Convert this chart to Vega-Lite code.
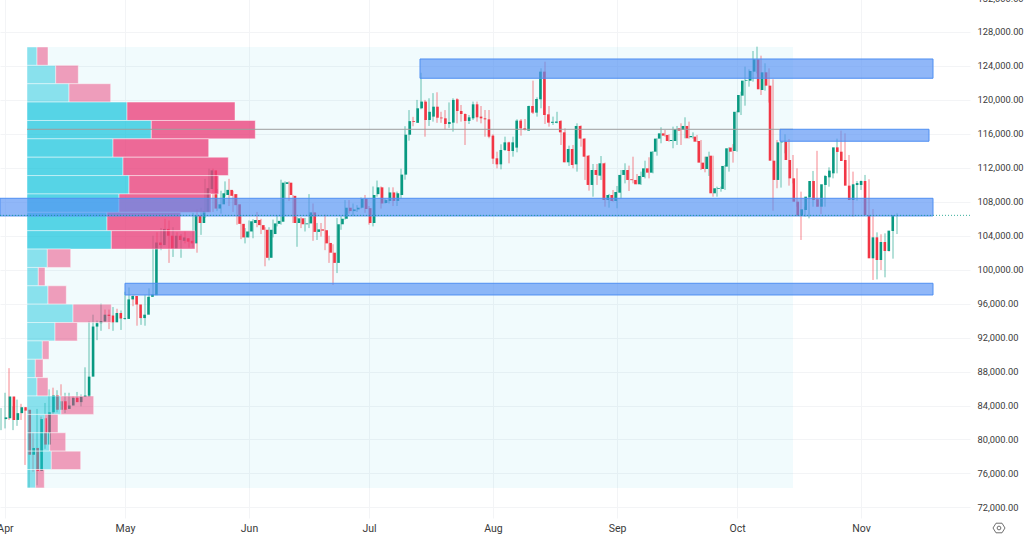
{"$schema":"https://vega.github.io/schema/vega-lite/v6.json","autosize":"none","width":970,"height":522,"padding":{"left":0,"top":-4,"right":54,"bottom":22},"background":"#ffffff","config":{"view":{"stroke":null},"font":"Roboto","axis":{"labelOverlap":false,"labelFont":"Roboto"}},"datasets":{"candles":[
{"date":"2025-03-31","open":82400,"high":83700,"low":81100,"close":82600,"dir":"up"},{"date":"2025-04-01","open":82500,"high":85500,"low":81300,"close":85050,"dir":"up"},{"date":"2025-04-02","open":85050,"high":88400,"low":82300,"close":82300,"dir":"down"},{"date":"2025-04-03","open":82300,"high":83900,"low":81100,"close":83100,"dir":"up"},{"date":"2025-04-04","open":83100,"high":84700,"low":81600,"close":83800,"dir":"up"},{"date":"2025-04-05","open":83800,"high":84200,"low":82300,"close":83400,"dir":"down"},{"date":"2025-04-06","open":83500,"high":83800,"low":77000,"close":78200,"dir":"down"},{"date":"2025-04-07","open":78200,"high":81100,"low":74300,"close":79000,"dir":"up"},{"date":"2025-04-08","open":79000,"high":80800,"low":76200,"close":76300,"dir":"down"},{"date":"2025-04-09","open":76300,"high":83600,"low":74600,"close":82400,"dir":"up"},{"date":"2025-04-10","open":82500,"high":82700,"low":78400,"close":79400,"dir":"down"},{"date":"2025-04-11","open":79400,"high":84300,"low":78900,"close":83200,"dir":"up"},{"date":"2025-04-12","open":83200,"high":85900,"low":82800,"close":85200,"dir":"up"},{"date":"2025-04-13","open":85200,"high":86100,"low":83000,"close":83500,"dir":"down"},{"date":"2025-04-14","open":83500,"high":85800,"low":83200,"close":84500,"dir":"up"},{"date":"2025-04-15","open":84500,"high":86500,"low":83500,"close":83500,"dir":"down"},{"date":"2025-04-16","open":83600,"high":85500,"low":83100,"close":84000,"dir":"up"},{"date":"2025-04-17","open":84000,"high":85500,"low":83700,"close":84900,"dir":"up"},{"date":"2025-04-18","open":84900,"high":85100,"low":84100,"close":84400,"dir":"down"},{"date":"2025-04-19","open":84400,"high":85600,"low":84400,"close":85000,"dir":"up"},{"date":"2025-04-20","open":85000,"high":85300,"low":83900,"close":85200,"dir":"up"},{"date":"2025-04-21","open":85050,"high":88500,"low":85000,"close":87400,"dir":"up"},{"date":"2025-04-22","open":87400,"high":93900,"low":87100,"close":93300,"dir":"up"},{"date":"2025-04-23","open":93300,"high":94700,"low":91900,"close":93700,"dir":"up"},{"date":"2025-04-24","open":93700,"high":94000,"low":91700,"close":93950,"dir":"up"},{"date":"2025-04-25","open":93900,"high":96000,"low":92800,"close":94700,"dir":"up"},{"date":"2025-04-26","open":94700,"high":95300,"low":93900,"close":94550,"dir":"down"},{"date":"2025-04-27","open":94600,"high":95300,"low":93000,"close":93800,"dir":"down"},{"date":"2025-04-28","open":93800,"high":95600,"low":92800,"close":94900,"dir":"up"},{"date":"2025-04-29","open":94900,"high":95400,"low":93900,"close":94250,"dir":"down"},{"date":"2025-04-30","open":94200,"high":95200,"low":92900,"close":94300,"dir":"up"},{"date":"2025-05-01","open":94200,"high":97400,"low":94100,"close":96500,"dir":"up"},{"date":"2025-05-02","open":96500,"high":97900,"low":96000,"close":96900,"dir":"up"},{"date":"2025-05-03","open":96900,"high":97000,"low":95700,"close":95900,"dir":"down"},{"date":"2025-05-04","open":95900,"high":96300,"low":93400,"close":94300,"dir":"down"},{"date":"2025-05-05","open":94300,"high":95200,"low":93500,"close":94700,"dir":"up"},{"date":"2025-05-06","open":94700,"high":97000,"low":93400,"close":96800,"dir":"up"},{"date":"2025-05-07","open":96800,"high":97800,"low":95800,"close":97100,"dir":"up"},{"date":"2025-05-08","open":97000,"high":104000,"low":96900,"close":103200,"dir":"up"},{"date":"2025-05-09","open":103200,"high":104400,"low":102300,"close":102900,"dir":"down"},{"date":"2025-05-10","open":102900,"high":104900,"low":102300,"close":104800,"dir":"up"},{"date":"2025-05-11","open":104800,"high":106000,"low":103100,"close":104000,"dir":"down"},{"date":"2025-05-12","open":104000,"high":105800,"low":100800,"close":102500,"dir":"down"},{"date":"2025-05-13","open":102500,"high":105000,"low":101500,"close":104000,"dir":"up"},{"date":"2025-05-14","open":104000,"high":104400,"low":102600,"close":103500,"dir":"down"},{"date":"2025-05-15","open":103400,"high":104200,"low":101400,"close":103800,"dir":"up"},{"date":"2025-05-16","open":103700,"high":104500,"low":103100,"close":103300,"dir":"down"},{"date":"2025-05-17","open":103400,"high":103700,"low":102600,"close":103100,"dir":"down"},{"date":"2025-05-18","open":103100,"high":106700,"low":102600,"close":106400,"dir":"up"},{"date":"2025-05-19","open":106400,"high":107100,"low":102000,"close":105500,"dir":"down"},{"date":"2025-05-20","open":105500,"high":107300,"low":104100,"close":106900,"dir":"up"},{"date":"2025-05-21","open":106800,"high":110700,"low":106100,"close":109600,"dir":"up"},{"date":"2025-05-22","open":109500,"high":111900,"low":109300,"close":111700,"dir":"up"},{"date":"2025-05-23","open":111700,"high":111900,"low":106800,"close":107200,"dir":"down"},{"date":"2025-05-24","open":107200,"high":109500,"low":106900,"close":107700,"dir":"up"},{"date":"2025-05-25","open":107700,"high":109300,"low":106600,"close":109000,"dir":"up"},{"date":"2025-05-26","open":108800,"high":110400,"low":108600,"close":109400,"dir":"up"},{"date":"2025-05-27","open":109400,"high":110700,"low":107500,"close":108700,"dir":"down"},{"date":"2025-05-28","open":108900,"high":109300,"low":106800,"close":107600,"dir":"down"},{"date":"2025-05-29","open":107700,"high":108900,"low":105300,"close":105400,"dir":"down"},{"date":"2025-05-30","open":105400,"high":106300,"low":103600,"close":103800,"dir":"down"},{"date":"2025-05-31","open":103800,"high":104900,"low":103100,"close":104500,"dir":"up"},{"date":"2025-06-01","open":104500,"high":105800,"low":103800,"close":105700,"dir":"up"},{"date":"2025-06-02","open":105500,"high":105950,"low":103700,"close":105850,"dir":"up"},{"date":"2025-06-03","open":105850,"high":106800,"low":105000,"close":105250,"dir":"down"},{"date":"2025-06-04","open":105250,"high":106000,"low":104200,"close":104700,"dir":"down"},{"date":"2025-06-05","open":104700,"high":105000,"low":100400,"close":101400,"dir":"down"},{"date":"2025-06-06","open":101400,"high":105000,"low":101100,"close":104700,"dir":"up"},{"date":"2025-06-07","open":104200,"high":105900,"low":103800,"close":105450,"dir":"up"},{"date":"2025-06-08","open":105400,"high":106400,"low":105100,"close":105750,"dir":"up"},{"date":"2025-06-09","open":105650,"high":110600,"low":105300,"close":110250,"dir":"up"},{"date":"2025-06-10","open":110100,"high":110400,"low":108400,"close":110300,"dir":"up"},{"date":"2025-06-11","open":110250,"high":110400,"low":108100,"close":108800,"dir":"down"},{"date":"2025-06-12","open":108700,"high":108800,"low":105500,"close":105500,"dir":"down"},{"date":"2025-06-13","open":105500,"high":106200,"low":102700,"close":106050,"dir":"up"},{"date":"2025-06-14","open":106050,"high":106200,"low":104900,"close":105350,"dir":"down"},{"date":"2025-06-15","open":105350,"high":106100,"low":104500,"close":105450,"dir":"up"},{"date":"2025-06-16","open":105450,"high":108900,"low":104900,"close":106750,"dir":"up"},{"date":"2025-06-17","open":106750,"high":107800,"low":103400,"close":104450,"dir":"down"},{"date":"2025-06-18","open":104450,"high":105500,"low":103500,"close":104750,"dir":"up"},{"date":"2025-06-19","open":104750,"high":105500,"low":103900,"close":104600,"dir":"down"},{"date":"2025-06-20","open":104650,"high":106500,"low":102300,"close":103100,"dir":"down"},{"date":"2025-06-21","open":103150,"high":104000,"low":100800,"close":102000,"dir":"down"},{"date":"2025-06-22","open":102000,"high":103000,"low":98200,"close":100800,"dir":"down"},{"date":"2025-06-23","open":100800,"high":106100,"low":99600,"close":105350,"dir":"up"},{"date":"2025-06-24","open":105350,"high":106300,"low":104700,"close":106000,"dir":"up"},{"date":"2025-06-25","open":106000,"high":108200,"low":105900,"close":107300,"dir":"up"},{"date":"2025-06-26","open":107300,"high":108200,"low":106600,"close":106900,"dir":"down"},{"date":"2025-06-27","open":106900,"high":107800,"low":106400,"close":107100,"dir":"up"},{"date":"2025-06-28","open":107100,"high":107600,"low":106800,"close":107300,"dir":"up"},{"date":"2025-06-29","open":107300,"high":108500,"low":107200,"close":108350,"dir":"up"},{"date":"2025-06-30","open":108350,"high":108800,"low":106700,"close":107150,"dir":"down"},{"date":"2025-07-01","open":107250,"high":107500,"low":105300,"close":105500,"dir":"down"},{"date":"2025-07-02","open":105500,"high":109800,"low":105100,"close":108800,"dir":"up"},{"date":"2025-07-03","open":108900,"high":110500,"low":108600,"close":109700,"dir":"up"},{"date":"2025-07-04","open":109700,"high":109800,"low":107200,"close":107800,"dir":"down"},{"date":"2025-07-05","open":107850,"high":108400,"low":107800,"close":108200,"dir":"up"},{"date":"2025-07-06","open":108100,"high":109700,"low":107800,"close":109100,"dir":"up"},{"date":"2025-07-07","open":109100,"high":109700,"low":107500,"close":108100,"dir":"down"},{"date":"2025-07-08","open":108100,"high":109200,"low":107500,"close":109000,"dir":"up"},{"date":"2025-07-09","open":108800,"high":111900,"low":108400,"close":111200,"dir":"up"},{"date":"2025-07-10","open":111200,"high":116900,"low":110600,"close":115900,"dir":"up"},{"date":"2025-07-11","open":115900,"high":118800,"low":115200,"close":117500,"dir":"up"},{"date":"2025-07-12","open":117500,"high":118000,"low":116900,"close":117400,"dir":"down"},{"date":"2025-07-13","open":117300,"high":120000,"low":117300,"close":119010,"dir":"up"},{"date":"2025-07-14","open":119010,"high":123200,"low":118900,"close":119800,"dir":"up"},{"date":"2025-07-15","open":119800,"high":120000,"low":115670,"close":117630,"dir":"down"},{"date":"2025-07-16","open":117630,"high":120190,"low":116930,"close":118600,"dir":"up"},{"date":"2025-07-17","open":118030,"high":120800,"low":117440,"close":119200,"dir":"up"},{"date":"2025-07-18","open":119200,"high":120900,"low":117300,"close":117900,"dir":"down"},{"date":"2025-07-19","open":117920,"high":118600,"low":117300,"close":117830,"dir":"down"},{"date":"2025-07-20","open":117830,"high":118800,"low":116540,"close":117160,"dir":"down"},{"date":"2025-07-21","open":117160,"high":119700,"low":116700,"close":117400,"dir":"up"},{"date":"2025-07-22","open":117320,"high":120200,"low":116260,"close":120000,"dir":"up"},{"date":"2025-07-23","open":120070,"high":120200,"low":117240,"close":118690,"dir":"down"},{"date":"2025-07-24","open":118690,"high":119400,"low":117440,"close":118340,"dir":"down"},{"date":"2025-07-25","open":118340,"high":118420,"low":114690,"close":117520,"dir":"down"},{"date":"2025-07-26","open":117520,"high":118220,"low":117160,"close":117950,"dir":"up"},{"date":"2025-07-27","open":117830,"high":119800,"low":117630,"close":119480,"dir":"up"},{"date":"2025-07-28","open":119480,"high":119800,"low":117440,"close":117950,"dir":"down"},{"date":"2025-07-29","open":118030,"high":119280,"low":117240,"close":117830,"dir":"down"},{"date":"2025-07-30","open":117830,"high":118810,"low":115670,"close":117710,"dir":"down"},{"date":"2025-07-31","open":117710,"high":118810,"low":115480,"close":115670,"dir":"down"},{"date":"2025-08-01","open":115790,"high":115950,"low":112450,"close":113080,"dir":"down"},{"date":"2025-08-02","open":113120,"high":113900,"low":111940,"close":112410,"dir":"down"},{"date":"2025-08-03","open":112410,"high":114770,"low":111820,"close":114100,"dir":"up"},{"date":"2025-08-04","open":114100,"high":115670,"low":113980,"close":115000,"dir":"up"},{"date":"2025-08-05","open":115000,"high":115080,"low":112530,"close":113980,"dir":"down"},{"date":"2025-08-06","open":113980,"high":115670,"low":113310,"close":115000,"dir":"up"},{"date":"2025-08-07","open":114380,"high":117720,"low":113830,"close":117560,"dir":"up"},{"date":"2025-08-08","open":117560,"high":117750,"low":115790,"close":116650,"dir":"down"},{"date":"2025-08-09","open":116650,"high":117750,"low":116400,"close":116460,"dir":"down"},{"date":"2025-08-10","open":116380,"high":119320,"low":116380,"close":119280,"dir":"up"},{"date":"2025-08-11","open":119280,"high":122270,"low":118340,"close":118500,"dir":"down"},{"date":"2025-08-12","open":118500,"high":120300,"low":118030,"close":120110,"dir":"up"},{"date":"2025-08-13","open":120070,"high":123720,"low":119010,"close":123330,"dir":"up"},{"date":"2025-08-14","open":123330,"high":124500,"low":117160,"close":118220,"dir":"down"},{"date":"2025-08-15","open":118300,"high":119280,"low":116850,"close":117320,"dir":"down"},{"date":"2025-08-16","open":117300,"high":118030,"low":117050,"close":117420,"dir":"up"},{"date":"2025-08-17","open":117300,"high":118600,"low":117240,"close":117450,"dir":"up"},{"date":"2025-08-18","open":117520,"high":117630,"low":114690,"close":116180,"dir":"down"},{"date":"2025-08-19","open":116180,"high":116650,"low":112650,"close":112650,"dir":"down"},{"date":"2025-08-20","open":112650,"high":114610,"low":112220,"close":114220,"dir":"up"},{"date":"2025-08-21","open":114220,"high":114690,"low":111940,"close":112330,"dir":"down"},{"date":"2025-08-22","open":112410,"high":117240,"low":111550,"close":116930,"dir":"up"},{"date":"2025-08-23","open":116930,"high":117000,"low":114490,"close":115440,"dir":"down"},{"date":"2025-08-24","open":115440,"high":115480,"low":110570,"close":113310,"dir":"down"},{"date":"2025-08-25","open":113430,"high":113510,"low":109310,"close":109980,"dir":"down"},{"date":"2025-08-26","open":109980,"high":112450,"low":108600,"close":111740,"dir":"up"},{"date":"2025-08-27","open":111740,"high":112450,"low":109980,"close":111160,"dir":"down"},{"date":"2025-08-28","open":111080,"high":113390,"low":110570,"close":112530,"dir":"up"},{"date":"2025-08-29","open":112530,"high":112610,"low":107420,"close":108210,"dir":"down"},{"date":"2025-08-30","open":108210,"high":108920,"low":107310,"close":108800,"dir":"up"},{"date":"2025-08-31","open":108800,"high":109390,"low":108010,"close":108090,"dir":"down"},{"date":"2025-09-01","open":108090,"high":109860,"low":107230,"close":109150,"dir":"up"},{"date":"2025-09-02","open":109070,"high":111740,"low":108410,"close":111160,"dir":"up"},{"date":"2025-09-03","open":111160,"high":112530,"low":110170,"close":111740,"dir":"up"},{"date":"2025-09-04","open":111740,"high":112260,"low":109270,"close":110570,"dir":"down"},{"date":"2025-09-05","open":110650,"high":113310,"low":110170,"close":110550,"dir":"down"},{"date":"2025-09-06","open":110570,"high":111270,"low":110060,"close":110060,"dir":"down"},{"date":"2025-09-07","open":110060,"high":111550,"low":109980,"close":111040,"dir":"up"},{"date":"2025-09-08","open":110920,"high":112840,"low":110760,"close":111940,"dir":"up"},{"date":"2025-09-09","open":111940,"high":113240,"low":110760,"close":111430,"dir":"down"},{"date":"2025-09-10","open":111430,"high":113980,"low":111350,"close":113900,"dir":"up"},{"date":"2025-09-11","open":113900,"high":115480,"low":113430,"close":115440,"dir":"up"},{"date":"2025-09-12","open":115440,"high":116770,"low":114890,"close":116060,"dir":"up"},{"date":"2025-09-13","open":116060,"high":116460,"low":115670,"close":115790,"dir":"down"},{"date":"2025-09-14","open":115870,"high":115950,"low":115080,"close":115160,"dir":"down"},{"date":"2025-09-15","open":115160,"high":116850,"low":114300,"close":115280,"dir":"up"},{"date":"2025-09-16","open":115160,"high":116930,"low":114690,"close":116570,"dir":"up"},{"date":"2025-09-17","open":116650,"high":117240,"low":114690,"close":116380,"dir":"down"},{"date":"2025-09-18","open":116460,"high":117950,"low":115480,"close":116930,"dir":"up"},{"date":"2025-09-19","open":116930,"high":117440,"low":115440,"close":115480,"dir":"down"},{"date":"2025-09-20","open":115600,"high":116180,"low":115440,"close":115750,"dir":"up"},{"date":"2025-09-21","open":115670,"high":115870,"low":115040,"close":115080,"dir":"down"},{"date":"2025-09-22","open":115160,"high":115280,"low":111740,"close":112610,"dir":"down"},{"date":"2025-09-23","open":112610,"high":113310,"low":111470,"close":111860,"dir":"down"},{"date":"2025-09-24","open":111860,"high":113900,"low":111040,"close":113310,"dir":"up"},{"date":"2025-09-25","open":113430,"high":113430,"low":108600,"close":109000,"dir":"down"},{"date":"2025-09-26","open":109000,"high":109780,"low":108600,"close":109590,"dir":"up"},{"date":"2025-09-27","open":109510,"high":109780,"low":109190,"close":109600,"dir":"up"},{"date":"2025-09-28","open":109510,"high":112330,"low":109390,"close":112220,"dir":"up"},{"date":"2025-09-29","open":112140,"high":114410,"low":111550,"close":114300,"dir":"up"},{"date":"2025-09-30","open":114380,"high":114800,"low":112610,"close":113900,"dir":"down"},{"date":"2025-10-01","open":113980,"high":118730,"low":113900,"close":118600,"dir":"up"},{"date":"2025-10-02","open":118540,"high":120970,"low":118220,"close":120580,"dir":"up"},{"date":"2025-10-03","open":120500,"high":123920,"low":119320,"close":122270,"dir":"up"},{"date":"2025-10-04","open":122270,"high":123600,"low":121560,"close":122350,"dir":"up"},{"date":"2025-10-05","open":122270,"high":125760,"low":122150,"close":123410,"dir":"up"},{"date":"2025-10-06","open":123330,"high":126270,"low":123130,"close":124780,"dir":"up"},{"date":"2025-10-07","open":124780,"high":125210,"low":120580,"close":121250,"dir":"down"},{"date":"2025-10-08","open":121170,"high":124310,"low":121090,"close":123250,"dir":"up"},{"date":"2025-10-09","open":123250,"high":123720,"low":119680,"close":121680,"dir":"down"},{"date":"2025-10-10","open":121680,"high":122430,"low":106950,"close":112840,"dir":"down"},{"date":"2025-10-11","open":112840,"high":115280,"low":109590,"close":110570,"dir":"down"},{"date":"2025-10-12","open":110570,"high":115080,"low":109670,"close":115000,"dir":"up"},{"date":"2025-10-13","open":115000,"high":115950,"low":113710,"close":115080,"dir":"up"},{"date":"2025-10-14","open":115080,"high":115390,"low":109900,"close":112920,"dir":"down"},{"date":"2025-10-15","open":112920,"high":113510,"low":110170,"close":110760,"dir":"down"},{"date":"2025-10-16","open":110760,"high":111940,"low":107420,"close":108010,"dir":"down"},{"date":"2025-10-17","open":108010,"high":109190,"low":103500,"close":106330,"dir":"down"},{"date":"2025-10-18","open":106330,"high":107420,"low":106250,"close":107110,"dir":"up"},{"date":"2025-10-19","open":107030,"high":108800,"low":106050,"close":108600,"dir":"up"},{"date":"2025-10-20","open":108520,"high":111630,"low":107420,"close":110450,"dir":"up"},{"date":"2025-10-21","open":110450,"high":114000,"low":107420,"close":108210,"dir":"down"},{"date":"2025-10-22","open":108290,"high":109110,"low":106560,"close":107420,"dir":"down"},{"date":"2025-10-23","open":107420,"high":111160,"low":107420,"close":110060,"dir":"up"},{"date":"2025-10-24","open":109980,"high":112060,"low":109780,"close":111040,"dir":"up"},{"date":"2025-10-25","open":110880,"high":111740,"low":110760,"close":111670,"dir":"up"},{"date":"2025-10-26","open":111350,"high":115440,"low":111350,"close":114410,"dir":"up"},{"date":"2025-10-27","open":114410,"high":116380,"low":113710,"close":113870,"dir":"down"},{"date":"2025-10-28","open":113900,"high":116060,"low":112140,"close":112800,"dir":"down"},{"date":"2025-10-29","open":112920,"high":113510,"low":108800,"close":109900,"dir":"down"},{"date":"2025-10-30","open":109900,"high":111550,"low":106250,"close":108210,"dir":"down"},{"date":"2025-10-31","open":108210,"high":110450,"low":108130,"close":110060,"dir":"up"},{"date":"2025-11-01","open":109980,"high":110500,"low":109390,"close":110200,"dir":"up"},{"date":"2025-11-02","open":109980,"high":111160,"low":109390,"close":110450,"dir":"up"},{"date":"2025-11-03","open":110450,"high":110650,"low":105150,"close":106440,"dir":"down"},{"date":"2025-11-04","open":106440,"high":107150,"low":98790,"close":101340,"dir":"down"},{"date":"2025-11-05","open":101340,"high":104400,"low":98860,"close":103810,"dir":"up"},{"date":"2025-11-06","open":103810,"high":104170,"low":99960,"close":101140,"dir":"down"},{"date":"2025-11-07","open":101140,"high":104280,"low":99100,"close":103260,"dir":"up"},{"date":"2025-11-08","open":103260,"high":103300,"low":102120,"close":102200,"dir":"down"},{"date":"2025-11-09","open":102200,"high":105380,"low":101300,"close":104600,"dir":"up"},{"date":"2025-11-10","open":104560,"high":106640,"low":104200,"close":106440,"dir":"up"}],
"profile":[
{"high":126233,"low":124069,"from":0,"to":10,"part":"up outer"},{"high":126233,"low":124069,"from":10,"to":21,"part":"down outer"},
{"high":124069,"low":121905,"from":0,"to":28.7,"part":"up outer"},{"high":124069,"low":121905,"from":28.7,"to":51.3,"part":"down outer"},
{"high":121905,"low":119741,"from":0,"to":42,"part":"up outer"},{"high":121905,"low":119741,"from":42,"to":83.7,"part":"down outer"},
{"high":119741,"low":117577,"from":0,"to":100,"part":"up value"},{"high":119741,"low":117577,"from":100,"to":208,"part":"down value"},
{"high":117577,"low":115413,"from":0,"to":124.3,"part":"up value"},{"high":117577,"low":115413,"from":124.3,"to":228.3,"part":"down value"},
{"high":115413,"low":113249,"from":0,"to":86,"part":"up value"},{"high":115413,"low":113249,"from":86,"to":181.7,"part":"down value"},
{"high":113249,"low":111085,"from":0,"to":96,"part":"up value"},{"high":113249,"low":111085,"from":96,"to":201.3,"part":"down value"},
{"high":111085,"low":108921,"from":0,"to":102,"part":"up value"},{"high":111085,"low":108921,"from":102,"to":191.7,"part":"down value"},
{"high":108921,"low":106757,"from":0,"to":92,"part":"up value"},{"high":108921,"low":106757,"from":92,"to":184,"part":"down value"},
{"high":106757,"low":104593,"from":0,"to":80,"part":"up value"},{"high":106757,"low":104593,"from":80,"to":153.7,"part":"down value"},
{"high":104593,"low":102429,"from":0,"to":84.3,"part":"up value"},{"high":104593,"low":102429,"from":84.3,"to":168,"part":"down value"},
{"high":102429,"low":100265,"from":0,"to":20.3,"part":"up outer"},{"high":102429,"low":100265,"from":20.3,"to":43.7,"part":"down outer"},
{"high":100265,"low":98101,"from":0,"to":11.3,"part":"up outer"},{"high":100265,"low":98101,"from":11.3,"to":18,"part":"down outer"},
{"high":98101,"low":95937,"from":0,"to":21,"part":"up outer"},{"high":98101,"low":95937,"from":21,"to":39.3,"part":"down outer"},
{"high":95937,"low":93773,"from":0,"to":46,"part":"up outer"},{"high":95937,"low":93773,"from":46,"to":84.3,"part":"down outer"},
{"high":93773,"low":91609,"from":0,"to":28,"part":"up outer"},{"high":93773,"low":91609,"from":28,"to":50.3,"part":"down outer"},
{"high":91609,"low":89445,"from":0,"to":15.3,"part":"up outer"},{"high":91609,"low":89445,"from":15.3,"to":22,"part":"down outer"},
{"high":89445,"low":87281,"from":0,"to":8.3,"part":"up outer"},{"high":89445,"low":87281,"from":8.3,"to":16,"part":"down outer"},
{"high":87281,"low":85117,"from":0,"to":10,"part":"up outer"},{"high":87281,"low":85117,"from":10,"to":21,"part":"down outer"},
{"high":85117,"low":82953,"from":0,"to":34,"part":"up outer"},{"high":85117,"low":82953,"from":34,"to":66.7,"part":"down outer"},
{"high":82953,"low":80789,"from":0,"to":18,"part":"up outer"},{"high":82953,"low":80789,"from":18,"to":31,"part":"down outer"},
{"high":80789,"low":78625,"from":0,"to":22.7,"part":"up outer"},{"high":80789,"low":78625,"from":22.7,"to":38.7,"part":"down outer"},
{"high":78625,"low":76461,"from":0,"to":24.3,"part":"up outer"},{"high":78625,"low":76461,"from":24.3,"to":53.7,"part":"down outer"},
{"high":76461,"low":74297,"from":0,"to":8.7,"part":"up outer"},{"high":76461,"low":74297,"from":8.7,"to":17.3,"part":"down outer"}],
"zones":[
{"start":"2025-07-13T18:00:00Z","end":"2025-11-19T00:00:00Z","top":124820,"bottom":122550},
{"start":"2025-10-11T18:00:00Z","end":"2025-11-18T00:00:00Z","top":116540,"bottom":115130},
{"start":"2025-03-30T18:00:00Z","end":"2025-11-19T00:00:00Z","top":108410,"bottom":106330},
{"start":"2025-05-01T00:00:00Z","end":"2025-11-19T00:00:00Z","top":98400,"bottom":97020}]},
"resolve":{"scale":{"x":"independent","color":"independent"},"axis":{"y":"independent"}},
"layer":[
{"data":{"values":[{"start":"2025-04-06T12:00:00Z","end":"2025-10-15T00:00:00Z","top":126233,"bottom":74297}]},"mark":{"type":"rect","fill":"#00bcd4","fillOpacity":0.055},
"encoding":{"x":{"field":"start","type":"temporal","title":null,"scale":{"type":"utc","domain":[{"year":2025,"month":"mar","date":30,"hours":18,"utc":true},{"year":2025,"month":"nov","date":28,"hours":6,"utc":true}]},"axis":{"values":[{"year":2025,"month":"apr","date":1,"utc":true},{"year":2025,"month":"may","date":1,"utc":true},{"year":2025,"month":"jun","date":1,"utc":true},{"year":2025,"month":"jul","date":1,"utc":true},{"year":2025,"month":"aug","date":1,"utc":true},{"year":2025,"month":"sep","date":1,"utc":true},{"year":2025,"month":"oct","date":1,"utc":true},{"year":2025,"month":"nov","date":1,"utc":true}],"labelExpr":"utcFormat(datum.value,'%b')","domain":false,"ticks":false,"grid":true,"gridColor":"#f3f4f6","labelFontSize":10.5,"labelColor":"#3a3a3a","labelPadding":5,"labelFlush":false,"labelBound":false,"labelOverlap":false}},"x2":{"field":"end"},
"y":{"field":"top","type":"quantitative","title":null,"scale":{"domain":[70749,132240],"nice":false,"zero":false},"axis":{"orient":"right","values":[72000,76000,80000,84000,88000,92000,96000,100000,104000,108000,112000,116000,120000,124000,128000,132000],"labelExpr":"format(datum.value,',.2f')","domain":false,"ticks":false,"grid":true,"gridColor":"#f3f4f6","labelFontSize":9.3,"labelColor":"#3a3a3a","labelPadding":7,"labelBound":false,"labelOverlap":false}},"y2":{"field":"bottom"}}},
{"data":{"name":"candles"},"mark":{"type":"rule","strokeWidth":1,"opacity":0.6},"encoding":{"x":{"field":"date","type":"temporal","axis":null,"scale":{"type":"utc","domain":[{"year":2025,"month":"mar","date":30,"hours":18,"utc":true},{"year":2025,"month":"nov","date":28,"hours":6,"utc":true}]}},"y":{"field":"low","type":"quantitative","axis":null},"y2":{"field":"high"},"color":{"field":"dir","type":"nominal","legend":null,"scale":{"domain":["up","down"],"range":["#089981","#f23645"]}}}},
{"data":{"name":"candles"},"mark":{"type":"bar","size":2.6,"cornerRadius":0},"encoding":{"x":{"field":"date","type":"temporal","axis":null,"scale":{"type":"utc","domain":[{"year":2025,"month":"mar","date":30,"hours":18,"utc":true},{"year":2025,"month":"nov","date":28,"hours":6,"utc":true}]}},"y":{"field":"open","type":"quantitative","axis":null},"y2":{"field":"close"},"color":{"field":"dir","type":"nominal","legend":null,"scale":{"domain":["up","down"],"range":["#089981","#f23645"]}}}},
{"data":{"name":"profile"},"mark":{"type":"rect","stroke":"#ffffff","strokeOpacity":0.45,"strokeWidth":1,"opacity":1},"encoding":{"x":{"field":"from","type":"quantitative","axis":null,"title":null,"scale":{"domain":[-27,943],"nice":false,"zero":false}},"x2":{"field":"to"},"y":{"field":"high","type":"quantitative","axis":null},"y2":{"field":"low"},"fill":{"field":"part","type":"nominal","legend":null,"scale":{"domain":["up value","down value","up outer","down outer"],"range":["rgba(34,199,222,0.75)","rgba(236,64,122,0.78)","rgba(34,199,222,0.5)","rgba(236,64,122,0.5)"]}}}},
{"data":{"values":[{"start":"2025-04-06T12:00:00Z","end":"2025-10-15T00:00:00Z","price":116540}]},"mark":{"type":"rule","stroke":"#9e9e9e","strokeWidth":1.2,"opacity":0.8},"encoding":{"x":{"field":"start","type":"temporal","axis":null,"scale":{"type":"utc","domain":[{"year":2025,"month":"mar","date":30,"hours":18,"utc":true},{"year":2025,"month":"nov","date":28,"hours":6,"utc":true}]}},"x2":{"field":"end"},"y":{"field":"price","type":"quantitative","axis":null}}},
{"data":{"name":"zones"},"mark":{"type":"rect","fill":"#5590f5","fillOpacity":0.65,"stroke":"#4f8ff2","strokeWidth":1},"encoding":{"x":{"field":"start","type":"temporal","axis":null,"scale":{"type":"utc","domain":[{"year":2025,"month":"mar","date":30,"hours":18,"utc":true},{"year":2025,"month":"nov","date":28,"hours":6,"utc":true}]}},"x2":{"field":"end"},"y":{"field":"top","type":"quantitative","axis":null},"y2":{"field":"bottom"}}},
{"data":{"values":[{"price":106400}]},"mark":{"type":"rule","stroke":"#089981","strokeWidth":1,"strokeDash":[1,2],"opacity":0.8},"encoding":{"y":{"field":"price","type":"quantitative","axis":null}}},
{"data":{"values":[{"date":"2025-12-05T12:00:00Z","price":69570}]},"mark":{"type":"point","shape":"M-1,0L-0.5,-0.8L0.5,-0.8L1,0L0.5,0.8L-0.5,0.8Z","size":144,"filled":false,"stroke":"#333333","strokeWidth":1,"clip":false},"encoding":{"x":{"field":"date","type":"temporal","axis":null,"scale":{"type":"utc","domain":[{"year":2025,"month":"mar","date":30,"hours":18,"utc":true},{"year":2025,"month":"nov","date":28,"hours":6,"utc":true}]}},"y":{"field":"price","type":"quantitative","axis":null}}},
{"data":{"values":[{"date":"2025-12-05T12:00:00Z","price":69570}]},"mark":{"type":"point","shape":"circle","size":14,"filled":false,"stroke":"#333333","strokeWidth":1,"clip":false},"encoding":{"x":{"field":"date","type":"temporal","axis":null,"scale":{"type":"utc","domain":[{"year":2025,"month":"mar","date":30,"hours":18,"utc":true},{"year":2025,"month":"nov","date":28,"hours":6,"utc":true}]}},"y":{"field":"price","type":"quantitative","axis":null}}}
]}
